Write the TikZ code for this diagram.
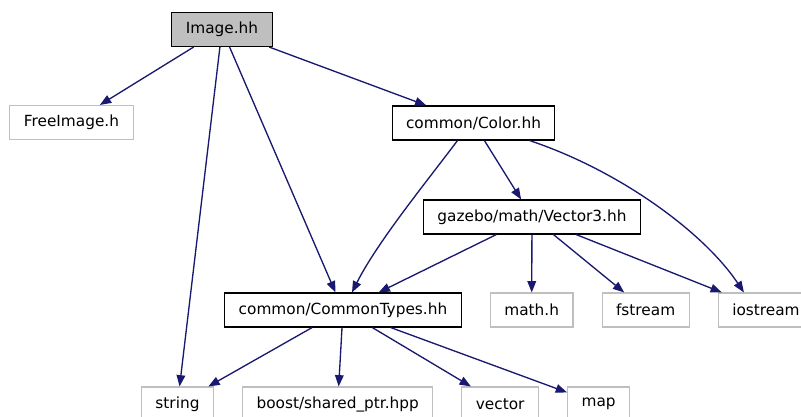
\documentclass[tikz,border=0pt]{standalone}
\usepackage{fontspec}
\setmainfont{DejaVu Sans}
\usepackage{tikz}
\usetikzlibrary{arrows.meta, positioning, calc}
\definecolor{edgeblue}{HTML}{191970}
\definecolor{boxgray}{HTML}{BFBFBF}

\begin{document}
\begin{tikzpicture}[x=0.75pt, y=-0.75pt, node distance=21pt, >={Triangle[length=8.5pt,width=6.5pt]},
    every node/.style={font=\fontsize{11.5}{13}\selectfont, minimum height=25.5pt, inner xsep=10.5pt, inner ysep=0pt},
    hfile/.style={draw=black, line width=0.8pt},
    sysfile/.style={draw=boxgray, line width=0.8pt},
    topfile/.style={hfile, fill=boxgray},
    dep/.style={->, draw=edgeblue, line width=1pt}]
    \useasboundingbox (0,0) rectangle (801,417);

    \node[topfile] (img) at (222,29.5) {Image.hh};
    \node[sysfile] (free) at (71.5,122.5) {FreeImage.h};
    \node[hfile] (color) at (473.5,123) {common/Color.hh};
    \node[hfile] (vec) at (532,217) {gazebo/math/Vector3.hh};
    \node[hfile] (types) at (343,310) {common/CommonTypes.hh};
    \node[sysfile] (mathh) [right=of types] {math.h};
    \node[sysfile] (fstr) [right=of mathh] {fstream};
    \node[sysfile] (iostr) [right=of fstr] {iostream};
    \node[sysfile] (str) at (177.5,404) {string};
    \node[sysfile] (shptr) [right=of str] {boost/shared\_ptr.hpp};
    \node[sysfile] (vect) [right=of shptr] {vector};
    \node[sysfile] (map) [right=of vect] {map};

    % includes of Image.hh
    \draw[dep] (img) -- (free);
    \draw[dep] (img) -- (str);
    \draw[dep] (img) -- (types);
    \draw[dep] (img) -- (color);

    % includes of Color.hh
    \draw[dep] ($(color.south)+(-16,0)$) .. controls +(-30,40) and +(25,-50) .. ($(types.north)+(9,0)$);
    \draw[dep] (color) -- (vec);
    \draw[dep] ($(color.south)+(56,0)$) .. controls +(90,30) and +(-40,-60) .. ($(iostr.north)+(-22,0)$);

    % includes of Vector3.hh
    \draw[dep] (vec) -- (types);
    \draw[dep] (vec) -- (mathh);
    \draw[dep] (vec) -- (fstr);
    \draw[dep] (vec) -- (iostr);

    % includes of CommonTypes.hh
    \draw[dep] (types) -- (str);
    \draw[dep] (types) -- (shptr);
    \draw[dep] (types) -- (vect);
    \draw[dep] (types) -- (map);
\end{tikzpicture}
\end{document}
